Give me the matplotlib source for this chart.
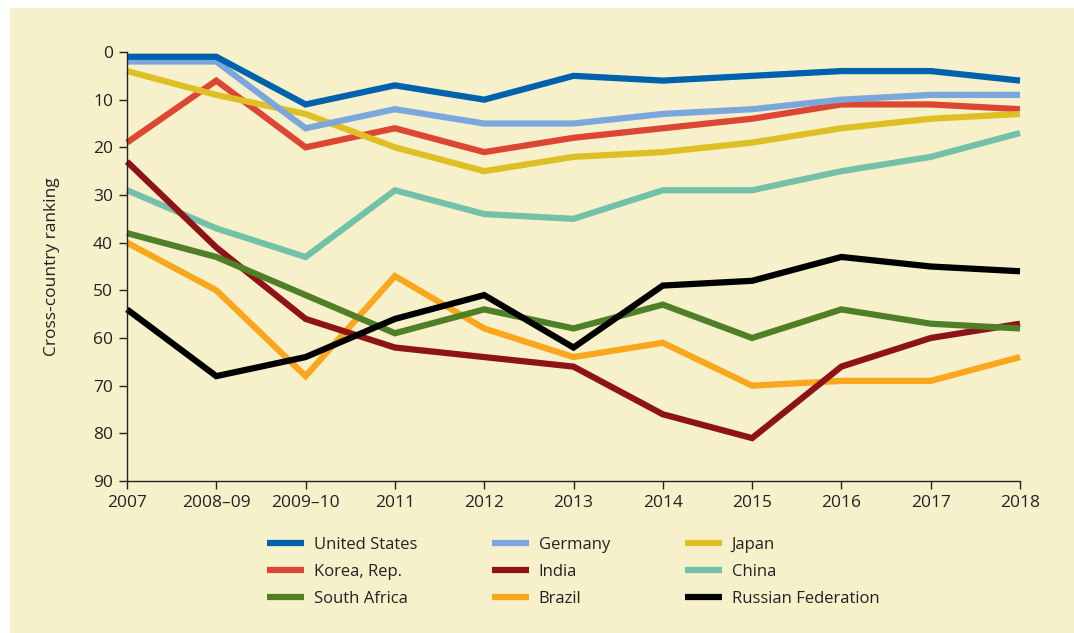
import matplotlib
matplotlib.use("Agg")
import matplotlib.pyplot as plt
from matplotlib.patches import Rectangle

categories = ["2007", "2008\u201309", "2009\u201310", "2011", "2012", "2013",
              "2014", "2015", "2016", "2017", "2018"]

united_states = [1, 1, 11, 7, 10, 5, 6, 5, 4, 4, 6]
germany = [2, 2, 16, 12, 15, 15, 13, 12, 10, 9, 9]
japan = [4, 9, 13, 20, 25, 22, 21, 19, 16, 14, 13]
korea = [19, 6, 20, 16, 21, 18, 16, 14, 11, 11, 12]
india = [23, 41, 56, 62, 64, 66, 76, 81, 66, 60, 57]
china = [29, 37, 43, 29, 34, 35, 29, 29, 25, 22, 17]
south_africa = [38, 43, 51, 59, 54, 58, 53, 60, 54, 57, 58]
brazil = [40, 50, 68, 47, 58, 64, 61, 70, 69, 69, 64]
russia = [54, 68, 64, 56, 51, 62, 49, 48, 43, 45, 46]

series_names = ["United States", "Korea, Rep.", "South Africa",
                "Germany", "India", "Brazil",
                "Japan", "China", "Russian Federation"]
series_values = [united_states, korea, south_africa,
                 germany, india, brazil,
                 japan, china, russia]
series_colors = ["#0062AD", "#DC4632", "#4F8028",
                 "#7BA7DC", "#8E1318", "#F9A81E",
                 "#DFC024", "#74C1A9", "#000000"]
draw_order = [5, 7, 1, 4, 2, 8, 6, 3, 0]  # rough z-order

y_ticks = list(range(0, 91, 10))

plt.rcParams['font.family'] = ['Open Sans', 'DejaVu Sans']

W, H = 1074, 633
fig = plt.figure(figsize=(W / 100, H / 100), dpi=100)
fig.patch.set_facecolor("white")
bg = "#F6F1CB"
fig.patches.append(Rectangle((10 / W, 0), 1 - 10 / W, 1 - 8 / H,
                             transform=fig.transFigure, facecolor=bg,
                             edgecolor="none", zorder=-10))

left, right = 127 / W, 1020 / W
top, bottom = 1 - 52 / H, 1 - 481 / H
ax = fig.add_axes([left, bottom, right - left, top - bottom])
ax.set_facecolor("none")

x = list(range(len(categories)))
lines = {}
for i in draw_order:
    ln, = ax.plot(x, series_values[i], color=series_colors[i], lw=4.5,
                  solid_joinstyle="miter", solid_capstyle="butt",
                  label=series_names[i], clip_on=False)
    lines[i] = ln

ax.set_xlim(0, len(categories) - 1)
ax.set_ylim(90, 0)
ax.set_xticks(x)
ax.set_xticklabels(categories)
ax.set_yticks(y_ticks)
for s in ["top", "right"]:
    ax.spines[s].set_visible(False)
for s in ["left", "bottom"]:
    ax.spines[s].set_linewidth(1.0)
    ax.spines[s].set_color("#222222")
ax.tick_params(axis="both", direction="out", length=6, width=1.0,
               labelsize=12.5, colors="#222222", pad=4)
ax.set_ylabel("Cross-country ranking", fontsize=12.5, color="#222222",
              labelpad=24)

handles = [lines[i] for i in range(9)]
leg = fig.legend(handles, series_names, loc="upper left",
                 bbox_to_anchor=(252 / W, 1 - 522 / H), ncol=3,
                 frameon=False, fontsize=12, handlelength=2.2,
                 handletextpad=0.6, columnspacing=4.5, labelspacing=0.65)
for t in leg.get_texts():
    t.set_color("#222222")

fig.savefig("out.png", dpi=100, facecolor=fig.get_facecolor())
